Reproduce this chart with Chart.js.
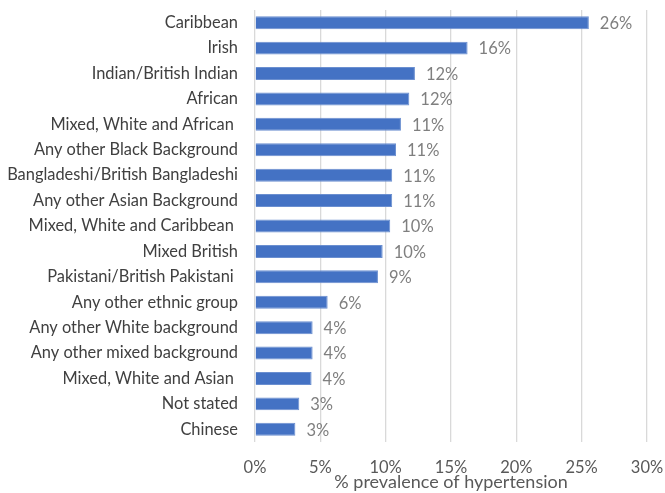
<!DOCTYPE html>
<html>
<head>
<meta charset="utf-8">
<script src="https://cdn.jsdelivr.net/npm/chart.js@4"></script>
<style>
    html, body { margin: 0; padding: 0; background: #fff; }
    #wrap { width: 665px; height: 493px; position: relative; }
</style>
</head>
<body>
<div id="wrap"><canvas id="prevalenceChart"></canvas></div>
<script>
// Ethnic groups, highest prevalence first
const groups = [
    'Caribbean',
    'Irish',
    'Indian/British Indian',
    'African',
    'Mixed, White and African ',
    'Any other Black Background',
    'Bangladeshi/British Bangladeshi',
    'Any other Asian Background',
    'Mixed, White and Caribbean ',
    'Mixed British',
    'Pakistani/British Pakistani ',
    'Any other ethnic group',
    'Any other White background',
    'Any other mixed background',
    'Mixed, White and Asian ',
    'Not stated',
    'Chinese'
];

// % prevalence of hypertension per group
const prevalence = [25.55, 16.27, 12.24, 11.81, 11.17, 10.79, 10.5, 10.5, 10.35, 9.77, 9.41, 5.56, 4.41, 4.41, 4.33, 3.39, 3.09];

const axisMax = 30;
const axisStep = 5;
const axisTitle = '% prevalence of hypertension';

const FONT = "Lato, 'Open Sans', sans-serif";

// value labels just past the end of each bar
const barValueLabels = {
    id: 'barValueLabels',
    afterDatasetsDraw(chart) {
        const ctx = chart.ctx;
        const meta = chart.getDatasetMeta(0);
        ctx.save();
        ctx.font = `16.5px ${FONT}`;
        ctx.fillStyle = '#7f7f7f';
        ctx.textAlign = 'left';
        ctx.textBaseline = 'middle';
        meta.data.forEach((bar, i) => {
            const v = chart.data.datasets[0].data[i];
            ctx.fillText(Math.round(v) + '%', bar.x + 11, bar.y + 1);
        });
        ctx.restore();
    }
};

new Chart(document.getElementById('prevalenceChart'), {
    type: 'bar',
    data: {
        labels: groups,
        datasets: [{
            data: prevalence,
            backgroundColor: '#4472c4',
            borderColor: '#6b8fd0',
            borderWidth: 1,
            categoryPercentage: 1,
            barPercentage: 0.51
        }]
    },
    options: {
        indexAxis: 'y',
        responsive: true,
        maintainAspectRatio: false,
        animation: false,
        layout: { padding: 0 },
        plugins: {
            legend: { display: false },
            tooltip: { enabled: false }
        },
        scales: {
            x: {
                min: 0,
                max: axisMax,
                border: { display: false },
                grid: { color: '#d9d9d9', lineWidth: 1.3, drawTicks: false },
                ticks: {
                    stepSize: axisStep,
                    padding: 16,
                    color: '#595959',
                    font: { family: FONT, size: 16.5 },
                    callback: v => v + '%'
                },
                title: {
                    display: true,
                    text: axisTitle,
                    color: '#595959',
                    font: { family: FONT, size: 18 },
                    padding: { top: 0, bottom: 0 }
                },
                afterFit(scale) {
                    scale.height = 51;
                    scale.paddingLeft = 0;
                    scale.paddingRight = 18;
                }
            },
            y: {
                border: { display: false },
                grid: { display: false, drawTicks: false },
                ticks: {
                    padding: 17,
                    color: '#404040',
                    font: { family: FONT, size: 16.4 }
                },
                afterFit(scale) {
                    scale.width = 255;
                    scale.paddingTop = 10;
                    scale.paddingBottom = 0;
                }
            }
        }
    },
    plugins: [barValueLabels]
});
</script>
</body>
</html>
